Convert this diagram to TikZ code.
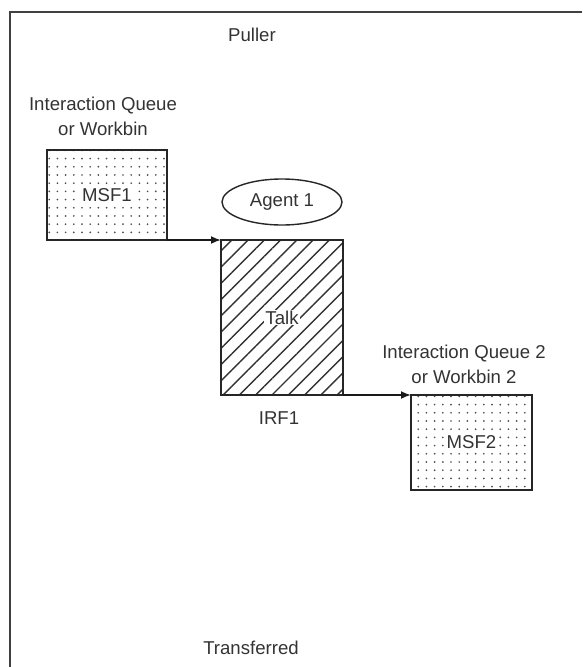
\documentclass[tikz,border=0pt]{standalone}
\usepackage{fontspec}
\setmainfont{Liberation Sans}
\usetikzlibrary{arrows.meta,patterns.meta,shapes.geometric}

\begin{document}
\begin{tikzpicture}[x=1pt,y=-1pt]
\tikzstyle{every node}+=[font=\fontsize{18.6}{25}\selectfont, text=black!80]
\tikzstyle{dotbox}=[draw=black!85, line width=1.8pt, inner sep=0pt, outer sep=0pt,
  pattern={Dots[distance=8.2pt,radius=0.95pt]}, pattern color=black!70]
\tikzstyle{hatchbox}=[draw=black!85, line width=1.8pt, inner sep=0pt, outer sep=0pt,
  pattern={Lines[angle=45,distance=11.5pt,line width=1.4pt]}, pattern color=black!80]
\tikzstyle{boxlabel}=[fill=white, inner sep=1pt]
\tikzstyle{arr}=[line width=1.8pt, black!90, -{Latex[length=10pt,width=8pt]}]
\useasboundingbox (0,0) rectangle (582,667);
% frame
\draw [black!75, line width=2.2pt] (10,667) -- (10,12) -- (582,12);
\node (puller) at (252,35) {Puller};
\node (transf) at (251,648) {Transferred};
% first queue
\node [align=center] (q1lab) at (103,116) {Interaction Queue\\or Workbin};
\node [dotbox, minimum width=120pt, minimum height=90pt] (msf1) at (107,195) {};
\node [boxlabel] (msf1lab) at (msf1) {MSF1};
% agent
\node [draw=black!85, line width=1.4pt, ellipse, minimum width=120pt, minimum height=46pt,
  inner sep=0pt] (agent) at (282,202) {Agent 1};
\node [hatchbox, minimum width=122pt, minimum height=155pt] (talk) at (282,317.5) {};
\node [boxlabel] (talklab) at (talk) {Talk};
\node (irf) at (279,418) {IRF1};
% second queue
\node [align=center] (q2lab) at (464,364) {Interaction Queue 2\\or Workbin 2};
\node [dotbox, minimum width=121pt, minimum height=95pt] (msf2) at (471.5,442.5) {};
\node [boxlabel] (msf2lab) at (msf2) {MSF2};
% arrows
\draw [arr] (msf1.south east) -- (talk.north west);
\draw [arr] (talk.south east) -- (msf2.north west);
\end{tikzpicture}
\end{document}
